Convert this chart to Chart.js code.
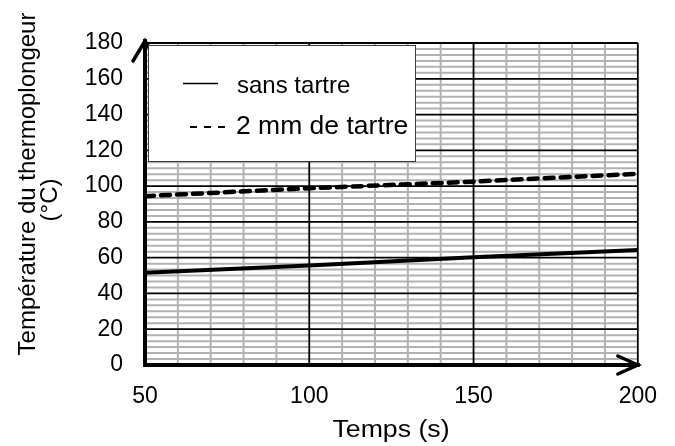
<!DOCTYPE html>
<html>
<head>
<meta charset="utf-8">
<script src="https://cdn.jsdelivr.net/npm/chart.js@4.4.0/dist/chart.umd.min.js"></script>
<style>
  html, body { margin: 0; padding: 0; background: #fff; }
</style>
</head>
<body>
<canvas id="chart" width="675" height="446"></canvas>
<script>
// values
const temps = [50, 100, 150, 200];
const sansTartre = [51.5, 55.6, 60.2, 64.3];
const deuxMmTartre = [94.4, 98.8, 102.5, 106.9];
const xTicks = [50, 100, 150, 200];
const yTicks = [0, 20, 40, 60, 80, 100, 120, 140, 160, 180];
const xMinorPerMajor = 5;
const yMinorPerMajor = 6;
const legendLabels = ['sans tartre', '2 mm de tartre'];

const FONT = "'Liberation Sans', Arial, sans-serif";

// gray minor grid first, black major grid on top
const gridPlugin = {
  id: 'grid',
  beforeDatasetsDraw(chart) {
    const { ctx, chartArea: a, scales: { x, y } } = chart;
    ctx.save();
    ctx.strokeStyle = '#b2b2b2';
    ctx.lineWidth = 2;
    for (let i = 0; i < xTicks.length - 1; i++) {
      const step = (xTicks[i + 1] - xTicks[i]) / xMinorPerMajor;
      for (let k = 1; k < xMinorPerMajor; k++) {
        const px = x.getPixelForValue(xTicks[i] + k * step);
        ctx.beginPath(); ctx.moveTo(px, a.top); ctx.lineTo(px, a.bottom); ctx.stroke();
      }
    }
    for (let i = 0; i < yTicks.length - 1; i++) {
      const step = (yTicks[i + 1] - yTicks[i]) / yMinorPerMajor;
      for (let k = 1; k < yMinorPerMajor; k++) {
        const py = y.getPixelForValue(yTicks[i] + k * step);
        ctx.beginPath(); ctx.moveTo(a.left, py); ctx.lineTo(a.right, py); ctx.stroke();
      }
    }
    ctx.strokeStyle = '#000';
    ctx.lineWidth = 1.8;
    xTicks.forEach(v => {
      const px = x.getPixelForValue(v);
      ctx.beginPath(); ctx.moveTo(px, a.top); ctx.lineTo(px, a.bottom); ctx.stroke();
    });
    yTicks.forEach(v => {
      const py = y.getPixelForValue(v);
      ctx.beginPath(); ctx.moveTo(a.left, py); ctx.lineTo(a.right, py); ctx.stroke();
    });
    ctx.restore();
  }
};

// thick axes with arrows, titles, legend box
const decoPlugin = {
  id: 'deco',
  afterDraw(chart) {
    const { ctx, chartArea: a } = chart;
    ctx.save();
    ctx.strokeStyle = '#000';
    ctx.lineWidth = 4;
    ctx.lineCap = 'square';
    ctx.beginPath();
    ctx.moveTo(a.left, a.bottom); ctx.lineTo(a.left, a.top - 2);
    ctx.moveTo(a.left, a.bottom); ctx.lineTo(a.right, a.bottom);
    ctx.stroke();
    ctx.lineCap = 'round';
    ctx.lineWidth = 3.5;
    ctx.beginPath();
    ctx.moveTo(a.left - 12, a.top + 18); ctx.lineTo(a.left, a.top - 2); ctx.lineTo(a.left + 12, a.top + 18);
    ctx.moveTo(a.right - 20, a.bottom - 9); ctx.lineTo(a.right, a.bottom); ctx.lineTo(a.right - 20, a.bottom + 9);
    ctx.stroke();

    // legend
    ctx.fillStyle = '#fff';
    ctx.fillRect(148, 45, 268, 117);
    ctx.strokeStyle = '#3a3a3a';
    ctx.lineWidth = 1;
    ctx.strokeRect(148.5, 45.5, 267, 116);
    ctx.strokeStyle = '#000';
    ctx.lineCap = 'butt';
    ctx.lineWidth = 1.4;
    ctx.beginPath(); ctx.moveTo(183, 83.5); ctx.lineTo(218, 83.5); ctx.stroke();
    ctx.lineWidth = 2;
    ctx.setLineDash([7, 7]);
    ctx.beginPath(); ctx.moveTo(190, 127); ctx.lineTo(226, 127); ctx.stroke();
    ctx.setLineDash([]);
    ctx.fillStyle = '#000';
    ctx.textAlign = 'left';
    ctx.textBaseline = 'alphabetic';
    ctx.font = '24px ' + FONT;
    ctx.fillText(legendLabels[0], 237, 93);
    ctx.font = '26.5px ' + FONT;
    ctx.fillText(legendLabels[1], 236, 134);

    // axis titles
    ctx.textAlign = 'center';
    ctx.save();
    ctx.translate(391, 437);
    ctx.scale(1.16, 1);
    ctx.font = '23px ' + FONT;
    ctx.fillText('Temps (s)', 0, 0);
    ctx.restore();
    ctx.font = '24px ' + FONT;
    ctx.save();
    ctx.translate(35, 184);
    ctx.rotate(-Math.PI / 2);
    ctx.fillText('Température du thermoplongeur', 0, 0);
    ctx.restore();
    ctx.save();
    ctx.translate(57, 200);
    ctx.rotate(-Math.PI / 2);
    ctx.fillText('(°C)', 0, 0);
    ctx.restore();
    ctx.restore();
  }
};

new Chart(document.getElementById('chart').getContext('2d'), {
  type: 'scatter',
  data: {
    datasets: [
      {
        label: legendLabels[0],
        data: temps.map((t, i) => ({ x: t, y: sansTartre[i] })),
        showLine: true,
        borderColor: '#000',
        borderWidth: 4,
        pointRadius: 0
      },
      {
        label: legendLabels[1],
        data: temps.map((t, i) => ({ x: t, y: deuxMmTartre[i] })),
        showLine: true,
        borderColor: '#000',
        borderWidth: 4.5,
        borderDash: [9, 7],
        borderCapStyle: 'round',
        pointRadius: 0
      }
    ]
  },
  options: {
    responsive: false,
    animation: false,
    layout: { padding: { left: 0, top: 43, right: 37, bottom: 0 } },
    plugins: { legend: { display: false }, tooltip: { enabled: false } },
    scales: {
      x: {
        type: 'linear',
        min: 50, max: 200,
        afterBuildTicks: s => { s.ticks = xTicks.map(v => ({ value: v })); },
        afterFit: s => { s.height = 81; },
        grid: { display: false, drawTicks: false },
        border: { display: false },
        ticks: { color: '#000', font: { family: FONT, size: 23 }, padding: 18 }
      },
      y: {
        min: 0, max: 180,
        afterBuildTicks: s => { s.ticks = yTicks.map(v => ({ value: v })); },
        afterFit: s => { s.width = 145; },
        grid: { display: false, drawTicks: false },
        border: { display: false },
        ticks: { color: '#000', font: { family: FONT, size: 23 }, padding: 22 }
      }
    }
  },
  plugins: [gridPlugin, decoPlugin]
});
</script>
</body>
</html>
